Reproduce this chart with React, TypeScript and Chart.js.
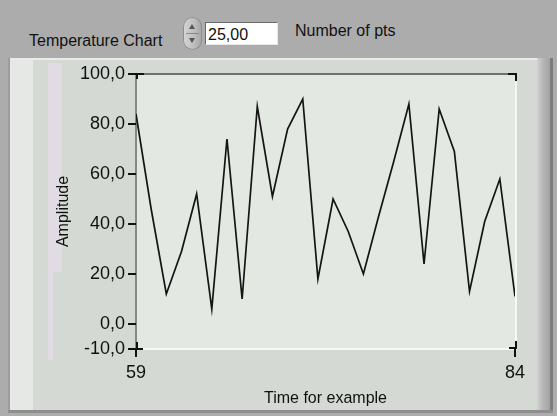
import React, { useEffect, useRef } from 'react';
import { Chart, registerables } from 'chart.js';

Chart.register(...registerables);

// ---- data ----
const timeValues = [59, 60, 61, 62, 63, 64, 65, 66, 67, 68, 69, 70, 71, 72, 73, 74, 75, 76, 77, 78, 79, 80, 81, 82, 83, 84];
const amplitude = [84, 46, 12, 29, 52, 6, 74, 10, 87, 51, 78, 90, 18, 50, 37, 20, 43, 65, 88, 24, 86, 69, 13, 41, 58, 11];
const yTickValues = [-10, 0, 20, 40, 60, 80, 100];
const xTickValues = [59, 84];
const chartLabel = 'Temperature Chart';
const numberLabel = 'Number of pts';
const numberValue = '25,00';
const xTitle = 'Time for example';
const yTitle = 'Amplitude';

const FONT = '"Liberation Sans", Arial, Helvetica, sans-serif';

const plotStyle = {
  id: 'plotStyle',
  beforeDraw(chart: any) {
    const { ctx, chartArea } = chart;
    const { left, top, right, bottom } = chartArea;
    ctx.save();
    ctx.fillStyle = '#e3e8e3';
    ctx.fillRect(left, top, right - left, bottom - top);
    // light bottom / right edges
    ctx.fillStyle = '#f7f9f7';
    ctx.fillRect(left, bottom - 1, right - left + 2, 2);
    ctx.fillRect(right, top, 2, bottom - top + 1);
    // dark top edge
    ctx.fillStyle = '#6f726f';
    ctx.fillRect(left - 1, top - 1, right - left + 2, 2);
    // gray left edge
    ctx.fillStyle = '#858885';
    ctx.fillRect(left - 1, top - 1, 2, bottom - top + 1);
    ctx.restore();
  },
  afterDraw(chart: any) {
    const { ctx, chartArea } = chart;
    const { left, top, right, bottom } = chartArea;
    ctx.save();
    ctx.fillStyle = '#111';
    // top-left bracket
    ctx.fillRect(left - 2, top - 1, 10, 2);
    ctx.fillRect(left, top - 1, 2, 6);
    // top-right bracket
    ctx.fillRect(right - 7, top - 1, 9, 2);
    ctx.fillRect(right, top - 1, 2, 8);
    // bottom-left cross
    ctx.fillRect(left - 5, bottom - 1, 12, 2);
    ctx.fillRect(left, bottom - 7, 2, 7);
    // bottom-right bracket
    ctx.fillRect(right - 6, bottom - 2, 7, 2);
    ctx.fillRect(right, bottom - 8, 2, 8);
    ctx.restore();
  },
};

export default function App() {
  const canvasRef = useRef<HTMLCanvasElement>(null);

  useEffect(() => {
    const canvas = canvasRef.current!;
    const chart = new Chart(canvas, {
      type: 'line',
      data: {
        datasets: [
          {
            data: timeValues.map((x, i) => ({ x, y: amplitude[i] })),
            borderColor: '#141414',
            borderWidth: 1.7,
            pointRadius: 0,
            tension: 0,
            fill: false,
          },
        ],
      },
      options: {
        animation: false,
        responsive: false,
        devicePixelRatio: 1,
        layout: { padding: { left: 0, top: 74, right: 42, bottom: 0 } },
        plugins: { legend: { display: false }, tooltip: { enabled: false } },
        scales: {
          x: {
            type: 'linear',
            min: 59,
            max: 84,
            afterBuildTicks: (s: any) => {
              s.ticks = xTickValues.map((v) => ({ value: v }));
            },
            afterFit: (s: any) => {
              s.height = 67;
            },
            grid: { drawOnChartArea: false, drawTicks: true, tickLength: 8, color: '#111', lineWidth: 2 },
            border: { display: false },
            ticks: {
              color: '#111',
              font: { size: 18, family: FONT },
              padding: 5,
              maxRotation: 0,
              autoSkip: false,
              callback: (v: any) => String(v),
            },
            title: {
              display: true,
              text: xTitle,
              color: '#111',
              font: { size: 16, family: FONT },
              padding: { top: 0, bottom: 8 },
            },
          },
          y: {
            type: 'linear',
            min: -10,
            max: 100,
            afterBuildTicks: (s: any) => {
              s.ticks = yTickValues.map((v) => ({ value: v }));
            },
            afterFit: (s: any) => {
              s.width = 136;
            },
            grid: { drawOnChartArea: false, drawTicks: true, tickLength: 8, color: '#111', lineWidth: 2 },
            border: { display: false },
            ticks: {
              color: '#111',
              font: { size: 18, family: FONT },
              padding: 3,
              callback: (v: any) => Number(v).toFixed(1).replace('.', ','),
            },
            title: {
              display: true,
              text: yTitle,
              color: '#111',
              font: { size: 16, family: FONT },
              padding: { top: 54, bottom: 0 },
            },
          },
        },
      },
      plugins: [plotStyle],
    } as any);
    return () => chart.destroy();
  }, []);

  const abs = (l: number, t: number, w: number, h: number, extra: any = {}) => ({
    position: 'absolute' as const,
    left: l,
    top: t,
    width: w,
    height: h,
    ...extra,
  });

  return (
    <div
      style={{
        position: 'fixed',
        left: 0,
        top: 0,
        width: 557,
        height: 416,
        background: '#acacac',
        overflow: 'hidden',
        fontFamily: FONT,
        color: '#111',
      }}
    >
      {/* header */}
      <div style={{ position: 'absolute', left: 29, top: 33, fontSize: 16, lineHeight: '16px', whiteSpace: 'nowrap' }}>
        {chartLabel}
      </div>
      <div
        style={abs(183, 17, 19, 33, {
          borderRadius: 10,
          background: 'linear-gradient(90deg, #d6d6d6, #bdbdbd 60%, #a4a4a4)',
          boxShadow: 'inset 0 0 0 1px #8f8f8f',
        })}
      >
        <div
          style={abs(6, 7, 0, 0, {
            borderLeft: '3px solid transparent',
            borderRight: '3px solid transparent',
            borderBottom: '5px solid #555',
          })}
        />
        <div style={abs(3, 16, 13, 1, { background: '#8a8a8a' })} />
        <div
          style={abs(6, 21, 0, 0, {
            borderLeft: '3px solid transparent',
            borderRight: '3px solid transparent',
            borderTop: '5px solid #555',
          })}
        />
      </div>
      <div
        style={abs(205, 22, 73, 23, {
          background: '#ffffff',
          borderTop: '1px solid #6a6a6a',
          borderLeft: '1px solid #6a6a6a',
          borderRight: '1px solid #e8e8e8',
          borderBottom: '1px solid #e8e8e8',
          boxSizing: 'border-box',
        })}
      >
        <div style={{ position: 'absolute', left: 2, top: 4, fontSize: 16, lineHeight: '16px' }}>{numberValue}</div>
      </div>
      <div style={{ position: 'absolute', left: 295, top: 23, fontSize: 16, lineHeight: '16px', whiteSpace: 'nowrap' }}>
        {numberLabel}
      </div>

      {/* chart frame */}
      <div style={abs(8, 58, 545, 355, { background: '#d4d9d4' })} />
      <div style={abs(8, 58, 545, 2, { background: '#e9ebe9' })} />
      <div style={abs(8, 58, 2, 355, { background: '#9c9c9c' })} />
      <div style={abs(10, 60, 23, 351, { background: '#e6e8e6' })} />
      <div style={abs(48, 63, 14, 209, { background: '#e1dce3' })} />
      <div style={abs(48, 272, 5, 88, { background: '#e1dce3' })} />
      <div style={abs(537, 58, 13, 355, { background: 'linear-gradient(90deg, #d2d2d2, #b9b9b9 40%, #a2a2a2)' })} />
      <div style={abs(550, 58, 3, 355, { background: '#7c7c7c' })} />
      <div style={abs(8, 410, 545, 3, { background: '#8e8e8e' })} />

      <canvas ref={canvasRef} width={557} height={416} style={abs(0, 0, 557, 416)} />
    </div>
  );
}
